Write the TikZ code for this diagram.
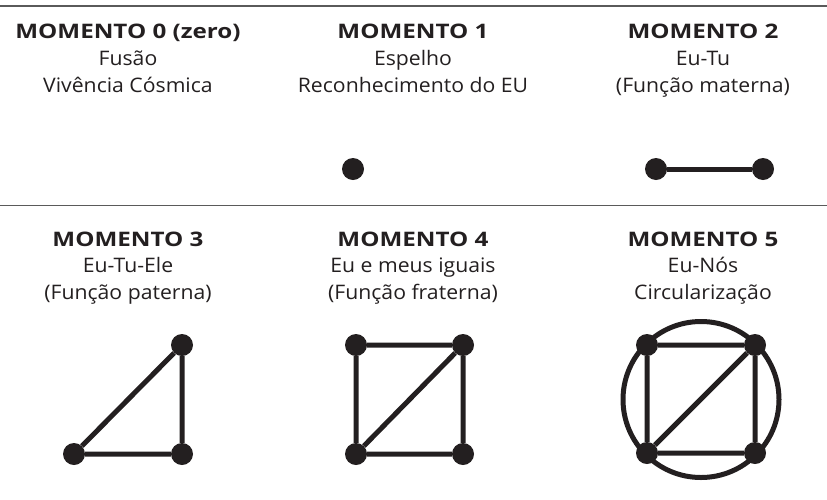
\documentclass[tikz,border=0pt]{standalone}
\usepackage{fontspec}
\newfontfamily\bodyfont{Open Sans}[FakeStretch=1.06]
\newfontfamily\headfont{Open Sans}[FakeStretch=1.21]
\definecolor{ink}{HTML}{231F20}
\definecolor{rule}{HTML}{5A5A5A}
\tikzset{
  title/.style={anchor=base,font=\fontsize{20}{24}\selectfont\headfont\bfseries,text=ink,inner sep=0pt},
  line/.style={anchor=base,font=\fontsize{20}{24}\selectfont\bodyfont,text=ink,inner sep=0pt},
  dot/.style={circle,fill=ink,minimum size=22pt,inner sep=0pt},
  edge/.style={draw=ink,line width=5pt},
}
\begin{document}
\begin{tikzpicture}[x=1pt,y=-1pt]
    \useasboundingbox (0,0) rectangle (827,499);
    \draw[rule,line width=1.8pt] (0,6)--(827,6);
    \draw[rule,line width=1.8pt] (0,205.5)--(827,205.5);
    % upper row
    \node[title] (t0) at (128,38.5) {MOMENTO 0 (zero)};
    \node[line] (t0a) at (128,65.5) {Fusão};
    \node[line] (t0b) at (128,92) {Vivência Cósmica};
    \node[title] (t1) at (413,38.5) {MOMENTO 1};
    \node[line] (t1a) at (413,65.5) {Espelho};
    \node[line] (t1b) at (413,92) {Reconhecimento do EU};
    \node[title] (t2) at (703,38.5) {MOMENTO 2};
    \node[line] (t2a) at (703,65.5) {Eu-Tu};
    \node[line] (t2b) at (703,92) {(Função materna)};
    % lower row
    \node[title] (t3) at (128,246) {MOMENTO 3};
    \node[line] (t3a) at (128,272.5) {Eu-Tu-Ele};
    \node[line] (t3b) at (128,299) {(Função paterna)};
    \node[title] (t4) at (413,246) {MOMENTO 4};
    \node[line] (t4a) at (413,272.5) {Eu e meus iguais};
    \node[line] (t4b) at (413,299) {(Função fraterna)};
    \node[title] (t5) at (703,246) {MOMENTO 5};
    \node[line] (t5a) at (703,272.5) {Eu-Nós};
    \node[line] (t5b) at (703,299) {Circularização};
    % moment 1
    \node[dot] (m1) at (353,169) {};
    % moment 2
    \node[dot] (m2a) at (656,169) {};
    \node[dot] (m2b) at (763,169) {};
    \draw[edge] (m2a) -- (m2b);
    % moment 3
    \node[dot] (m3a) at (74,454) {};
    \node[dot] (m3b) at (182,454) {};
    \node[dot] (m3c) at (182,345) {};
    \draw[edge] (m3a) -- (m3b) -- (m3c) -- (m3a);
    % moment 4
    \node[dot] (m4a) at (356,454) {};
    \node[dot] (m4b) at (463,454) {};
    \node[dot] (m4c) at (463,345) {};
    \node[dot] (m4d) at (356,345) {};
    \draw[edge] (m4a) -- (m4b) -- (m4c) -- (m4d) -- (m4a) -- (m4c);
    % moment 5
    \coordinate (ring) at (701,399.5);
    \draw[ink,line width=5pt] (ring) circle (78);
    \node[dot] (m5a) at (647,453) {};
    \node[dot] (m5b) at (755,453) {};
    \node[dot] (m5c) at (755,345) {};
    \node[dot] (m5d) at (647,345) {};
    \draw[edge] (m5a) -- (m5b) -- (m5c) -- (m5d) -- (m5a) -- (m5c);
\end{tikzpicture}
\end{document}
